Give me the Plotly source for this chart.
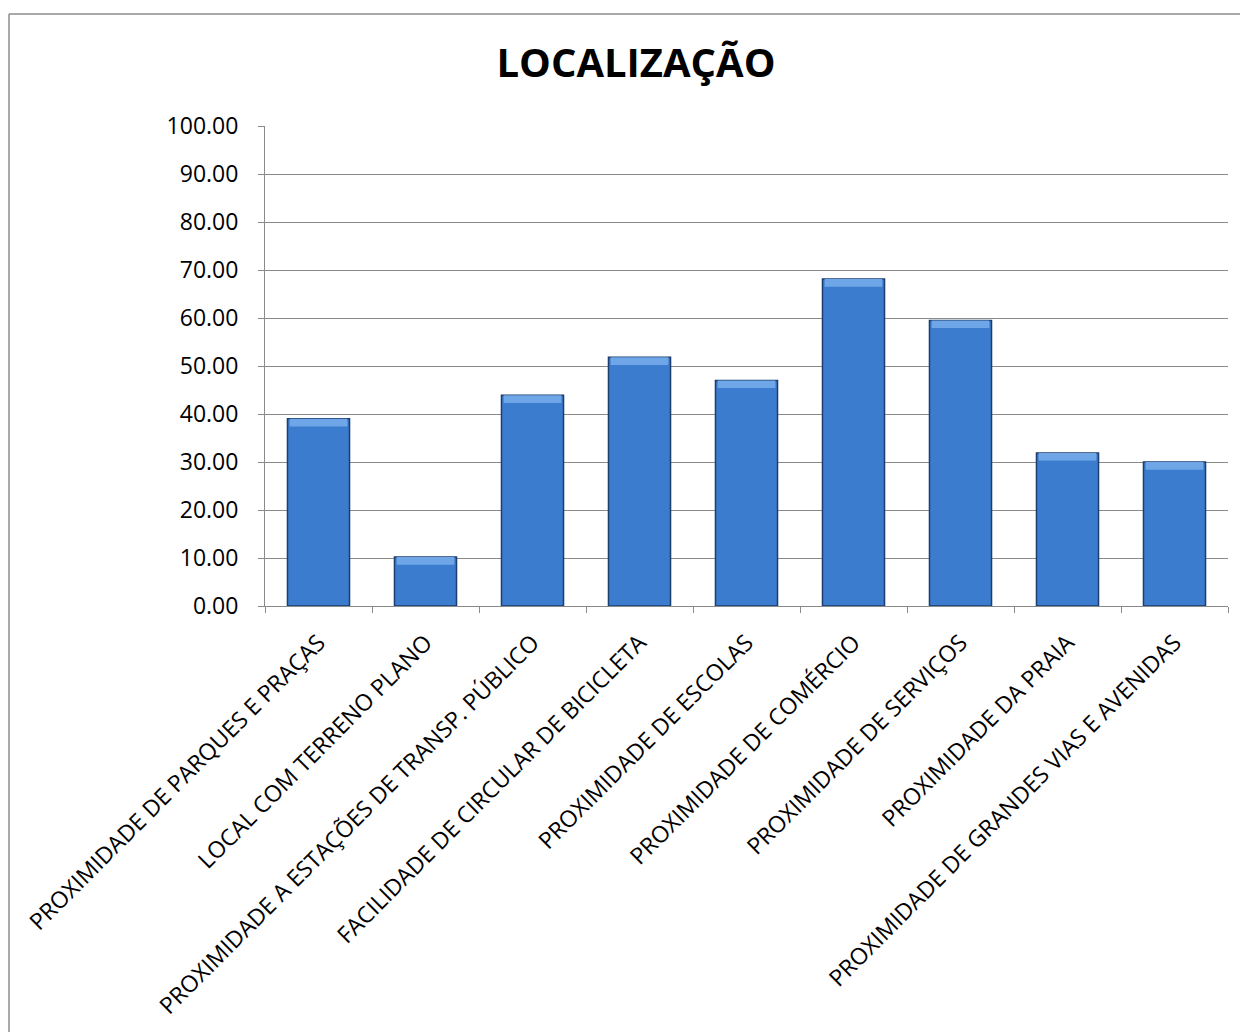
import plotly.graph_objects as go

categories = [
    "PROXIMIDADE DE PARQUES E PRAÇAS",
    "LOCAL COM TERRENO PLANO",
    "PROXIMIDADE A ESTAÇÕES DE TRANSP. PÚBLICO",
    "FACILIDADE DE CIRCULAR DE BICICLETA",
    "PROXIMIDADE DE ESCOLAS",
    "PROXIMIDADE DE COMÉRCIO",
    "PROXIMIDADE DE SERVIÇOS",
    "PROXIMIDADE DA PRAIA",
    "PROXIMIDADE DE GRANDES VIAS E AVENIDAS",
]
values = [39.0, 10.2, 43.9, 51.8, 47.0, 68.1, 59.5, 31.9, 30.0]
y_ticks = [0, 10, 20, 30, 40, 50, 60, 70, 80, 90, 100]

OFF = 8  # page body margin
W, H = 1248 - OFF, 1032 - OFF
L, R, T, B = 265 - OFF, 1228 - OFF, 126 - OFF, 606 - OFF

fig = go.Figure()
fig.add_trace(go.Bar(
    x=categories, y=values,
    marker=dict(color="#3B7CCE", line=dict(color="#1C3D6E", width=1.5)),
    width=0.58,
    hoverinfo="x+y",
))
# top bevel highlight
fig.add_trace(go.Bar(
    x=categories, y=[1.6] * len(values), base=[v - 1.6 for v in values],
    marker=dict(color="#6FA6E8", line=dict(width=0)),
    width=0.54,
    hoverinfo="skip",
))

def fx(p):  # figure pixel -> paper x
    return (p - L) / (R - L)

def fy(p):  # figure pixel -> paper y
    return (B - p) / (B - T)

fig.add_shape(type="line", xref="paper", yref="paper",
              x0=fx(1), x1=fx(W + 5), y0=fy(14 - OFF), y1=fy(14 - OFF),
              line=dict(color="#8C8C8C", width=1.5))
fig.add_shape(type="line", xref="paper", yref="paper",
              x0=fx(1), x1=fx(1), y0=fy(14 - OFF), y1=fy(H + 5),
              line=dict(color="#8C8C8C", width=1.5))

fig.update_layout(
    width=W, height=H,
    margin=dict(l=L, r=W - R, t=T, b=H - B, pad=0),
    paper_bgcolor="white", plot_bgcolor="white",
    barmode="overlay",
    showlegend=False,
    title=dict(text="<b>LOCALIZAÇÃO</b>", x=(636 - OFF) / W, xanchor="center",
               y=1 - (63 - OFF) / H, yanchor="middle",
               font=dict(family="Open Sans", size=40, color="black")),
    font=dict(family="Open Sans", color="black"),
)
fig.update_yaxes(
    range=[0, 100], tickvals=y_ticks, tickformat=".2f",
    showgrid=True, gridcolor="#8A8A8A", gridwidth=1,
    showline=True, linecolor="#8A8A8A", linewidth=1,
    ticks="outside", ticklen=6, tickcolor="#8A8A8A",
    ticklabelstandoff=15,
    tickfont=dict(family="Open Sans", size=23, color="black"),
    zeroline=False,
)
fig.update_xaxes(
    tickangle=-45,
    showline=True, linecolor="#8A8A8A", linewidth=1,
    ticks="outside", ticklen=6, tickcolor="#8A8A8A", tickson="boundaries",
    ticklabelstandoff=13,
    tickfont=dict(family="Open Sans", size=23, color="black"),
    showgrid=False,
)

fig.write_html("out.html")
